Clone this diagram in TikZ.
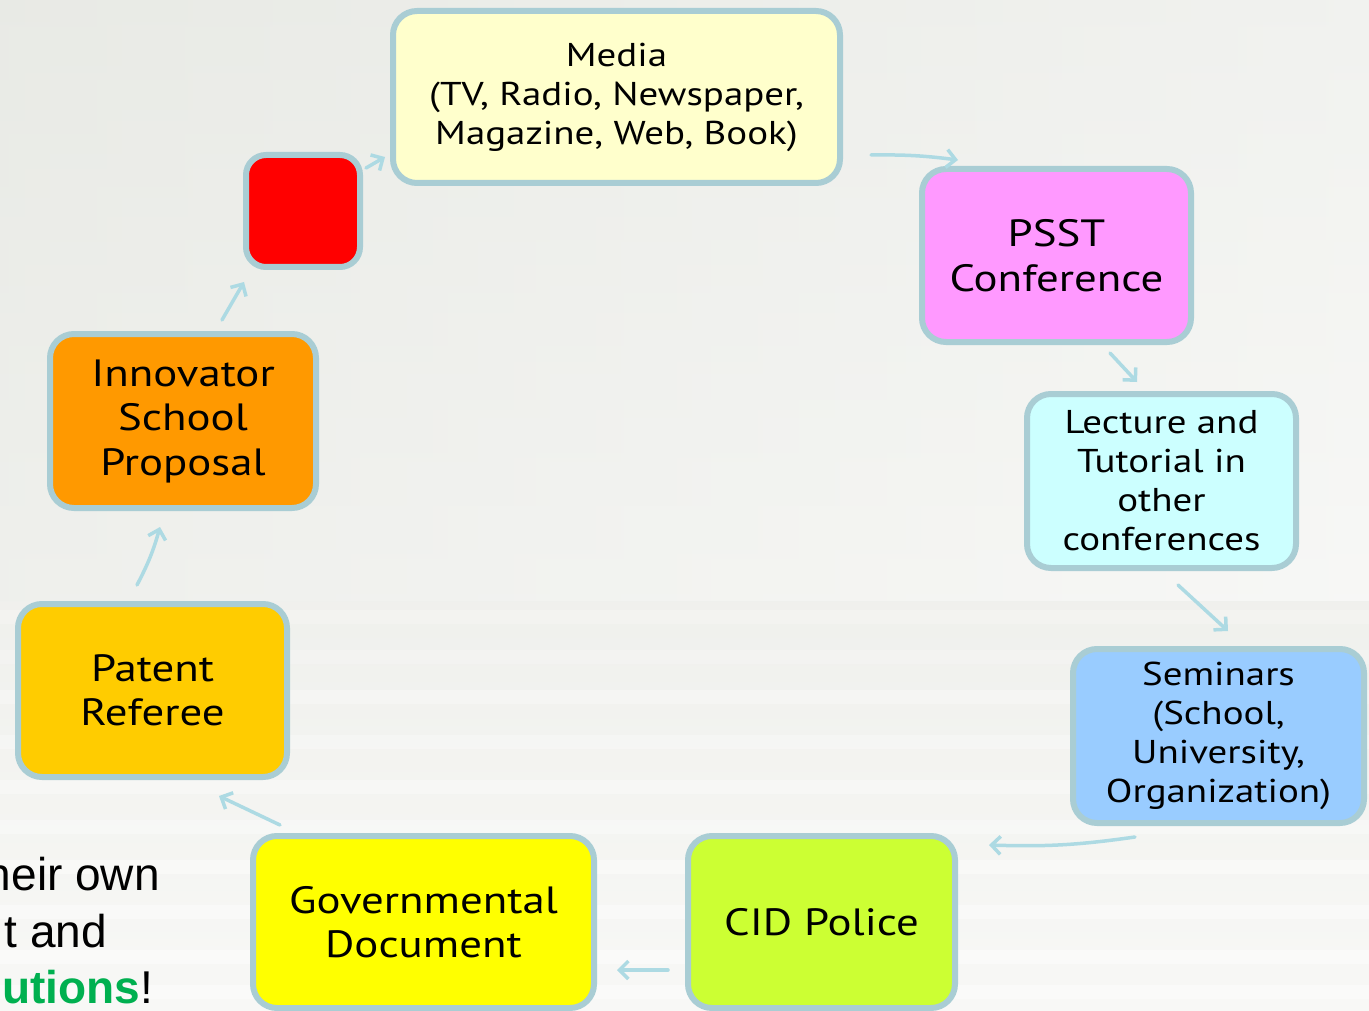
\documentclass[tikz,border=0pt]{standalone}
\usepackage{fontspec}
\setmainfont[FakeStretch=1.18]{PT Sans}
\newfontfamily\arialfont{Liberation Sans}
\usetikzlibrary{arrows.meta,calc}
\definecolor{bgtop}{HTML}{E3E5DF}
\definecolor{bgbot}{HTML}{F8F8F6}
\definecolor{bord}{HTML}{A9CDD4}
\definecolor{arrc}{HTML}{ADDAE3}
\definecolor{cMedia}{HTML}{FFFFCC}
\definecolor{cPSST}{HTML}{FF99FF}
\definecolor{cLect}{HTML}{CCFFFF}
\definecolor{cSem}{HTML}{99CCFF}
\definecolor{cCID}{HTML}{CCFF33}
\definecolor{cGov}{HTML}{FFFF00}
\definecolor{cPat}{HTML}{FFCC00}
\definecolor{cInn}{HTML}{FF9900}
\definecolor{cGreen}{HTML}{00B050}
\tikzset{
  box/.style={draw=bord, line width=6pt, rounded corners=24pt, align=center, inner sep=0pt, text=black},
  bigtxt/.style={font=\fontsize{38}{44.5}\selectfont},
  smalltxt/.style={font=\fontsize{33}{39}\selectfont},
  arr/.style={draw=arrc, line width=3.5pt, line cap=round, -{Straight Barb[length=9pt,width=18pt,line width=3.5pt]}},
  side/.style={font=\arialfont\fontsize{46}{56}\selectfont, anchor=base east, inner sep=0pt}
}
\begin{document}
\begin{tikzpicture}[x=1pt,y=-1pt]
\useasboundingbox (0,0) rectangle (1369,1011);
\begin{scope}
\clip (0,0) rectangle (1369,1011);
\shade[top color=bgtop, bottom color=bgbot] (0,0) rectangle (1369,1011);
\shade[left color=bgtop!60!white, right color=white, opacity=0.5] (0,0) rectangle (1369,600);
% faint paper-stack streaks
\foreach \yy/\op in {610/0.2,650/0.2,690/0.3,735/0.3,780/0.35,820/0.35,860/0.4,905/0.4,950/0.4,985/0.4}{
  \fill[white, opacity=\op] (0,\yy) rectangle (1369,\yy+14);
}
\node[side] (t1) at (160,890) {heir own};
\node[side] (t2) at (107,947) {t and};
\node[side] (t3) at (153,1003) {\textcolor{cGreen}{\textbf{utions}}!};
\end{scope}

\node[box, fill=red, minimum width=114pt, minimum height=112pt, rounded corners=20pt] (red) at (303,211) {};
\node[box, fill=cMedia, minimum width=447pt, minimum height=172pt, smalltxt] (media) at (616.5,97) {Media\\(TV, Radio, Newspaper,\\Magazine, Web, Book)};
\node[box, fill=cPSST, minimum width=269pt, minimum height=173pt, bigtxt] (psst) at (1056.5,255.5) {PSST\\Conference};
\node[box, fill=cLect, minimum width=269pt, minimum height=174pt, smalltxt] (lect) at (1161.5,481) {Lecture and\\Tutorial in\\other\\conferences};
\node[box, fill=cSem, minimum width=291pt, minimum height=174pt, smalltxt] (sem) at (1218.5,736) {Seminars\\(School,\\University,\\Organization)};
\node[box, fill=cCID, minimum width=267pt, minimum height=172pt, bigtxt] (cid) at (821.5,922) {CID Police};
\node[box, fill=cGov, minimum width=341pt, minimum height=172pt, bigtxt] (gov) at (423.5,922) {Governmental\\Document};
\node[box, fill=cPat, minimum width=269pt, minimum height=173pt, bigtxt] (pat) at (152.5,690.5) {Patent\\Referee};
\node[box, fill=cInn, minimum width=266pt, minimum height=174pt, bigtxt] (inn) at (183,421) {Innovator\\School\\Proposal};

% connectors
\draw[arr] ($(red.north east)+(3,16)$) -- ($(media.south west)+(-5,-29)$);
\draw[arr] ($(media.south east)+(28,-31)$) to[bend left=4] ($(psst.north west)+(39,-6)$);
\draw[arr] ($(psst.south west)+(191,8)$) -- ($(lect.north west)+(113,-9)$);
\draw[arr] ($(lect.south west)+(154,14)$) -- ($(sem.north west)+(158,-15)$);
\draw[arr] ($(sem.south west)+(65,11)$) to[bend left=5] ($(cid.north east)+(31,12)$);
\draw[arr] ($(cid.south west)+(-17,-41)$) -- ($(gov.south east)+(20,-41)$);
\draw[arr] ($(gov.north west)+(30,-8)$) -- ($(pat.south east)+(-71,16)$);
\draw[arr] ($(pat.north west)+(122,-16)$) to[bend right=6] ($(inn.south west)+(113,16)$);
\draw[arr] ($(inn.north west)+(175,-11)$) -- ($(red.south west)+(1,12)$);
\end{tikzpicture}
\end{document}
